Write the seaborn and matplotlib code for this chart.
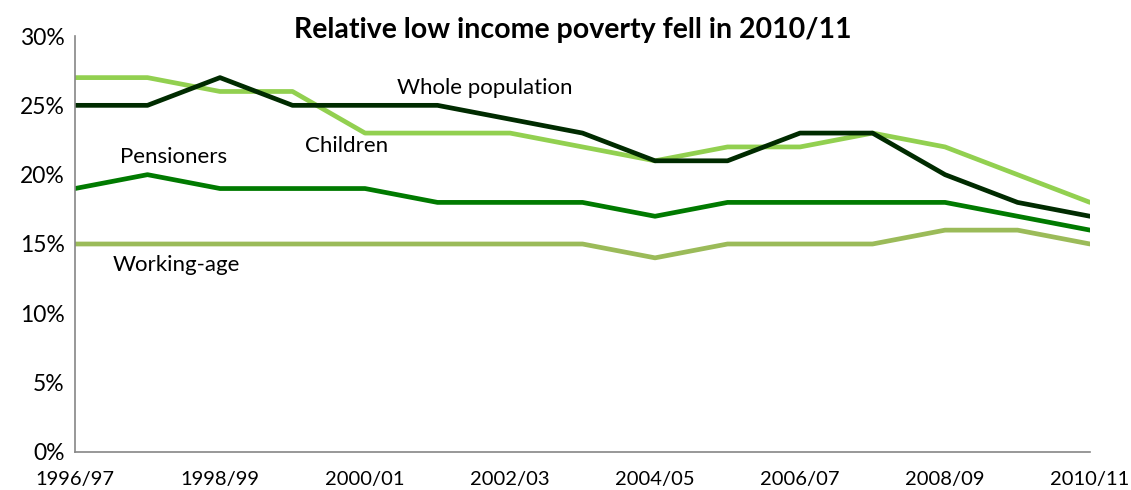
import matplotlib
matplotlib.use("Agg")
import matplotlib.pyplot as plt
import seaborn as sns
import pandas as pd
from matplotlib.ticker import FuncFormatter, MultipleLocator

years = ["1996/97", "1997/98", "1998/99", "1999/00", "2000/01", "2001/02", "2002/03",
         "2003/04", "2004/05", "2005/06", "2006/07", "2007/08", "2008/09", "2009/10", "2010/11"]
children = [27, 27, 26, 26, 23, 23, 23, 22, 21, 22, 22, 23, 22, 20, 18]
whole_population = [25, 25, 27, 25, 25, 25, 24, 23, 21, 21, 23, 23, 20, 18, 17]
pensioners = [19, 20, 19, 19, 19, 18, 18, 18, 17, 18, 18, 18, 18, 17, 16]
working_age = [15, 15, 15, 15, 15, 15, 15, 15, 14, 15, 15, 15, 16, 16, 15]

series = {
    "Working-age": working_age,
    "Pensioners": pensioners,
    "Children": children,
    "Whole population": whole_population,
}
colors = {
    "Working-age": "#9BBB59",
    "Pensioners": "#007A00",
    "Children": "#92D050",
    "Whole population": "#002B00",
}

rows = []
for name, vals in series.items():
    for i, v in enumerate(vals):
        rows.append({"idx": i, "year": years[i], "group": name, "value": v})
df = pd.DataFrame(rows)

sns.set_theme(style="white")
plt.rcParams["font.family"] = ["Lato", "DejaVu Sans"]
plt.rcParams["text.color"] = "black"

fig = plt.figure(figsize=(11.31, 4.90), dpi=100)
ax = fig.add_axes([0.0663, 0.0776, 0.8975, 0.8489])

sns.lineplot(data=df, x="idx", y="value", hue="group", palette=colors,
             hue_order=list(series.keys()), linewidth=3.4, legend=False, ax=ax)

ax.set_xlim(0, len(years) - 1)
ax.set_ylim(0, 30)
ax.yaxis.set_major_locator(MultipleLocator(5))
ax.yaxis.set_major_formatter(FuncFormatter(lambda v, p: f"{v:.0f}%"))
ax.set_xticks(range(len(years)))
ax.set_xticklabels([y if i % 2 == 0 else "" for i, y in enumerate(years)])
ax.set_xlabel("")
ax.set_ylabel("")

for s in ["top", "right"]:
    ax.spines[s].set_visible(False)
for s in ["left", "bottom"]:
    ax.spines[s].set_color("#868686")
    ax.spines[s].set_linewidth(1.2)
ax.tick_params(axis="both", which="major", direction="out", length=4.5, width=1.0,
               color="#868686", labelcolor="black")
ax.tick_params(axis="x", pad=9, labelsize=14.5)
ax.tick_params(axis="y", pad=3, labelsize=16.5)

label_style = dict(fontsize=16, color="black", va="center", ha="left")
ax.text(4.44, 26.25, "Whole population", **label_style)
ax.text(3.17, 22.06, "Children", **label_style)
ax.text(0.62, 21.3, "Pensioners", **label_style)
ax.text(0.52, 13.5, "Working-age", **label_style)

fig.suptitle("Relative low income poverty fell in 2010/11", x=0.506, y=0.965,
             fontsize=20.5, fontweight="bold", va="top", color="black")

fig.savefig("out.png", dpi=100, facecolor="white")
